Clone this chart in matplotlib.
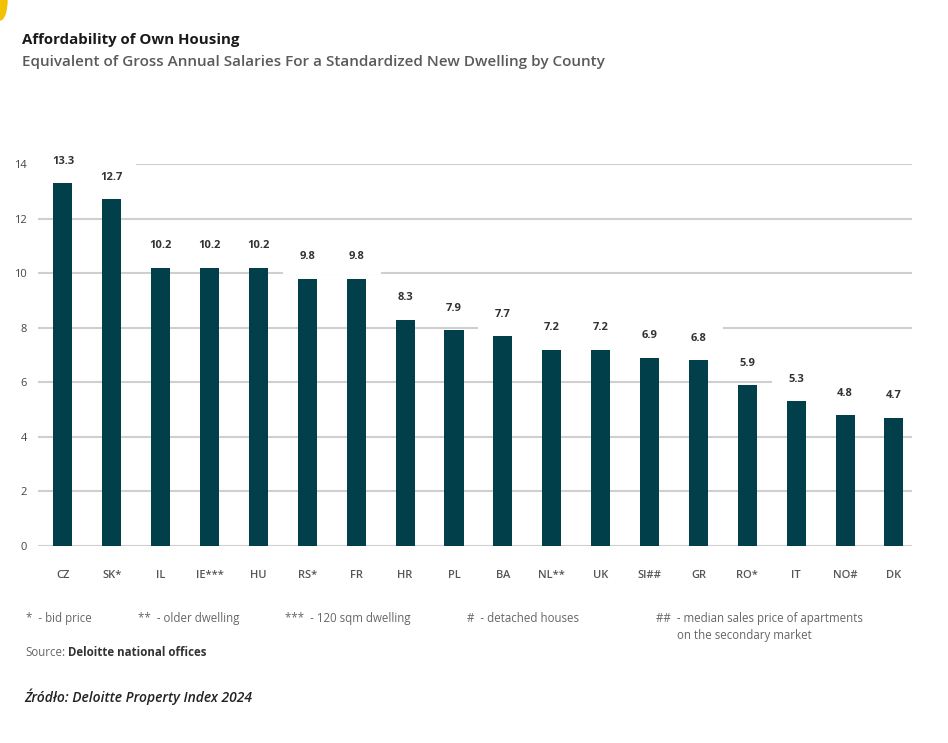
import numpy as np
import matplotlib.pyplot as plt
from matplotlib.patches import Ellipse, Rectangle

# Data
countries = ['CZ', 'SK*', 'IL', 'IE***', 'HU', 'RS*', 'FR', 'HR', 'PL', 'BA',
             'NL**', 'UK', 'SI##', 'GR', 'RO*', 'IT', 'NO#', 'DK']
values = [13.3, 12.7, 10.2, 10.2, 10.2, 9.8, 9.8, 8.3, 7.9, 7.7,
          7.2, 7.2, 6.9, 6.8, 5.9, 5.3, 4.8, 4.7]
y_ticks = [0, 2, 4, 6, 8, 10, 12, 14]

footnotes = ['*  - bid price', '**  - older dwelling', '***  - 120 sqm dwelling',
             '#  - detached houses', '##  - median sales price of apartments\n       on the secondary market']

plt.rcParams['font.family'] = ['Open Sans', 'DejaVu Sans']

bar_color = '#013F4A'
grid_color = '#cfcfcf'

W, H = 948, 743
fig = plt.figure(figsize=(W / 100, H / 100), dpi=100)

left, right, top, bottom = 38, 912, 164, 546
ax = fig.add_axes([left / W, 1 - bottom / H, (right - left) / W, (bottom - top) / H])

x = np.arange(len(countries))
ax.bar(x, values, width=0.39, color=bar_color, zorder=3)

ax.set_ylim(0, 14)
ax.set_xlim(-0.51, len(countries) - 0.63)
ax.set_yticks(y_ticks)
ax.set_yticklabels([str(t) for t in y_ticks])
ax.set_xticks(x)
ax.set_xticklabels(countries)
ax.tick_params(axis='y', length=0, pad=8, labelsize=8, labelcolor='#444444')
ax.tick_params(axis='x', length=0, pad=17, labelsize=8, labelcolor='#555555')
for lab in ax.get_xticklabels():
    lab.set_fontweight('semibold')
ax.yaxis.grid(True, color=grid_color, linewidth=1.5, zorder=0)
ax.set_axisbelow(True)
for s in ax.spines.values():
    s.set_visible(False)

# value labels; their white boxes hide the gridlines as in the original
label_lift = 0.8
for xi, v in zip(x, values):
    ly = v + label_lift
    ax.add_patch(Rectangle((xi - 0.5, ly - 0.62), 1.0, 1.24, fc='white', ec='none',
                           zorder=2, clip_on=False))
    ax.text(xi, ly, f'{v:.1f}', ha='center', va='center', fontsize=8,
            fontweight='bold', color='#333333', zorder=4)

# titles
fig.text(22 / W, 1 - 40 / H, 'Affordability of Own Housing', fontsize=10.8,
         fontweight='bold', color='#1a1a1a', va='center')
fig.text(22 / W, 1 - 62 / H,
         'Equivalent of Gross Annual Salaries For a Standardized New Dwelling by County',
         fontsize=11, fontweight='semibold', color='#5a5a5a', va='center')

# footnotes
foot_x = [26, 138, 285, 467, 656]
for fx, txt in zip(foot_x, footnotes):
    fig.text(fx / W, 1 - 612 / H, txt, fontsize=8.3, color='#666666', va='top',
             linespacing=1.45)

fig.text(25 / W, 1 - 653 / H, 'Source:', fontsize=8.3, color='#666666', va='center')
fig.text(68 / W, 1 - 653 / H, 'Deloitte national offices', fontsize=8.3,
         fontweight='bold', color='#333333', va='center')

fig.text(24 / W, 1 - 697 / H, 'Źródło: Deloitte Property Index 2024', fontsize=10,
         fontstyle='italic', fontweight='semibold', color='#222222', va='center')

# small yellow corner mark
fig.patches.append(Ellipse((0, 1), 14 / W, 40 / H, transform=fig.transFigure,
                           color='#F2C200', zorder=0))

fig.savefig('out.png', dpi=100)
